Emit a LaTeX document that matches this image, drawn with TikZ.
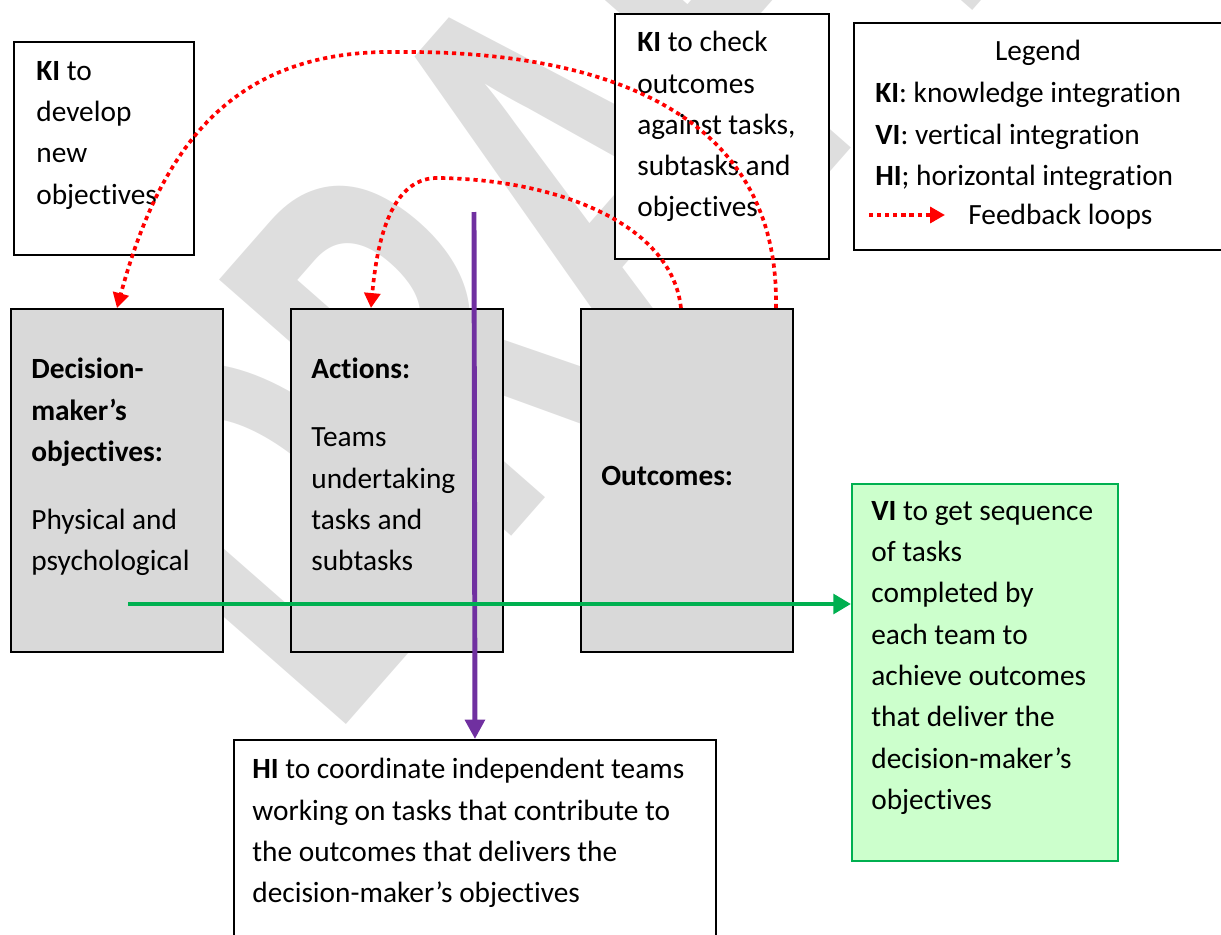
\documentclass[tikz,border=0pt]{standalone}
\usepackage{fontspec}
\setmainfont{Carlito}[Ligatures={TeX,NoCommon}]
\usetikzlibrary{arrows.meta,calc}
\definecolor{stagegray}{RGB}{217,217,217}
\definecolor{markgray}{RGB}{222,222,222}
\definecolor{hipurple}{RGB}{112,48,160}
\definecolor{vigreen}{RGB}{0,176,80}
\definecolor{vifill}{RGB}{204,255,204}
\newcommand{\bodyfont}{\fontsize{16.7}{23.5}\selectfont}

\begin{document}
\begin{tikzpicture}[x=0.2mm, y=-0.2mm,
  box/.style={draw=black, line width=1.1pt, fill=white, anchor=north west, inner sep=0pt},
  stage/.style={box, fill=stagegray, minimum width=42.4mm, minimum height=68.6mm},
  txt/.style={anchor=north west, inner sep=0pt, align=left, font=\bodyfont,
    execute at begin node=\strut},
  fb/.style={red, line width=2.1pt, dash pattern=on 2.4pt off 2.2pt,
    -{Triangle[length=8.5pt,width=9pt]}},
  draftmark/.style={rotate=48.75, xscale=0.665, anchor=base west, inner sep=0pt,
    text=markgray, font=\fontsize{341}{341}\selectfont\bfseries}]

  \useasboundingbox (0,0) rectangle (1221,935);
  \clip (0,0) rectangle (1221,935);

  % watermark
  \node[draftmark] (draft) at (331,742) {DRAFT};

  % text boxes
  \node[box, minimum width=36mm, minimum height=42.6mm] (kidev) at (13,41) {};
  \node[box, minimum width=42.8mm, minimum height=49mm] (kichk) at (614,13) {};
  \node[box, minimum width=75.4mm, minimum height=45.4mm] (legend) at (853,22) {};
  \node[box, minimum width=96.4mm, minimum height=42.2mm] (hi) at (233,739) {};
  \node[box, draw=vigreen, fill=vifill, minimum width=53.2mm, minimum height=75.4mm] (vi) at (851,483) {};

  % stages
  \node[stage] (dm) at (10,308) {};
  \node[stage] (ac) at (290,308) {};
  \node[stage] (oc) at (580,308) {};

  % texts
  \node[txt] (kidevtext) at (36,61) {\textbf{KI} to\\develop\\new\\objectives};
  \node[txt] (kichktext) at (637,31) {\textbf{KI} to check\\outcomes\\against tasks,\\subtasks and\\objectives};
  \node[txt, anchor=north] (legendtitle) at (1038,31) {Legend};
  \node[txt] (legendtext) at (875,82) {\textbf{KI}: knowledge integration\\\textbf{VI}: vertical integration\\\textbf{HI}; horizontal integration};
  \node[txt] (fbtext) at (968,195) {Feedback loops};
  \node[txt] (dmtext) at (31,358) {\textbf{Decision-}\\\textbf{maker’s}\\\textbf{objectives:}\\[15.2pt]Physical and\\psychological};
  \node[txt] (actext) at (311,358) {\textbf{Actions:}\\[15.2pt]Teams\\undertaking\\tasks and\\subtasks};
  \node[txt] (octext) at (601,456) {\textbf{Outcomes:}};
  \node[txt] (vitext) at (871,501) {\textbf{VI} to get sequence\\of tasks\\completed by\\each team to\\achieve outcomes\\that deliver the\\decision-maker’s\\objectives};
  \node[txt] (hitext) at (252,758) {\textbf{HI} to coordinate independent teams\\working on tasks that contribute to\\the outcomes that delivers the\\decision-maker’s objectives};

  % feedback loops
  \draw[fb] ([xshift=17.8mm]oc.north) .. controls (780,110) and (600,50) .. (395,52)
    .. controls (230,50) and (160,150) .. (dm.north);
  \draw[fb] ([xshift=-1.2mm]oc.north) .. controls (672,225) and (560,180) .. (440,178)
    .. controls (395,176) and (378,230) .. ([xshift=-5.2mm]ac.north);
  \coordinate (fbstart) at (869,215);
  \draw[fb, shorten >=4.6mm] (fbstart) -- (fbstart -| fbtext.west);

  % horizontal integration
  \coordinate (hitop) at (474,212);
  \draw[hipurple, line width=2.8pt, -{Triangle[length=11pt,width=11pt]}] (hitop) -- (hi.north);

  % vertical integration
  \coordinate (vistart) at (128,604);
  \draw[vigreen, line width=2.8pt, -{Triangle[length=10pt,width=11pt]}] (vistart) -- (vistart -| vi.west);

\end{tikzpicture}
\end{document}
